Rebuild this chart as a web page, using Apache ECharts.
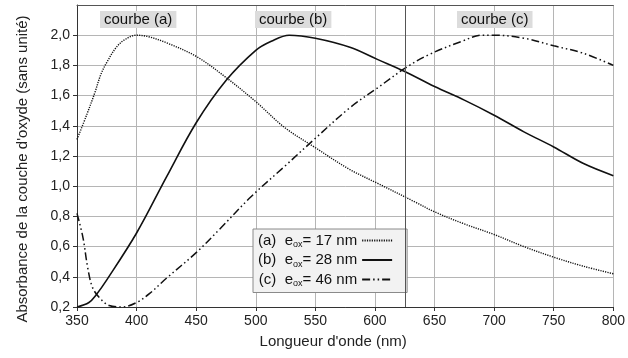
<!DOCTYPE html>
<html><head><meta charset="utf-8">
<script src="https://cdn.jsdelivr.net/npm/echarts@6/dist/echarts.min.js"></script>
<style>html,body{margin:0;padding:0;background:#fff}#c{width:628px;height:358px}</style>
</head><body><div id="c"></div>
<script>
// Curve (a) e_ox = 17 nm
const waveA = [350,358,365,370,375,383,390,400,410,425,450,475,500,524,549,579,602,635,650,675,700,725,750,775,800];
const absA  = [1.31,1.47,1.62,1.74,1.82,1.92,1.97,2.00,1.99,1.95,1.86,1.72,1.56,1.39,1.26,1.11,1.02,0.89,0.83,0.75,0.68,0.60,0.53,0.47,0.42];
// Curve (b) e_ox = 28 nm
const waveB = [350,360,366,375,400,425,450,475,500,513,528,550,579,602,625,650,675,700,725,750,775,800];
const absB  = [0.20,0.23,0.28,0.38,0.69,1.06,1.42,1.70,1.90,1.96,2.00,1.98,1.92,1.84,1.76,1.66,1.57,1.47,1.36,1.26,1.15,1.07];
// Curve (c) e_ox = 46 nm
const waveC = [350,355,359,363,369,377,388,400,411,425,450,469,496,524,549,579,602,625,645,673,690,700,725,750,775,800];
const absC  = [0.82,0.66,0.46,0.33,0.26,0.21,0.20,0.23,0.29,0.39,0.56,0.71,0.93,1.13,1.31,1.52,1.65,1.78,1.87,1.96,2.00,2.00,1.98,1.93,1.88,1.80];

const xTicks = [350,400,450,500,550,600,650,700,750,800];
const yTicks = [0.2,0.4,0.6,0.8,1.0,1.2,1.4,1.6,1.8,2.0];
const legendNames = ['(a)', '(b)', '(c)'];
const legendThickness = ['17', '28', '46'];
const curveLabels = ['courbe (a)', 'courbe (b)', 'courbe (c)'];
const markerWave = 625;

const FONT = 'Liberation Sans, Arial, sans-serif';
const zip = (xs, ys) => xs.map((x, i) => [x, ys[i]]);

const chart = echarts.init(document.getElementById('c'));
const legendText = {};
legendNames.forEach((n, i) => { legendText[n] = legendThickness[i]; });

function lineSeries(name, data, type, width) {
  return {
    name, type: 'line', data, smooth: 0.35, symbol: 'none', showSymbol: false,
    lineStyle: { color: '#111', width, type },
    itemStyle: { color: '#111' },
    animation: false, silent: true, z: 3
  };
}

const series = [
  lineSeries(legendNames[0], zip(waveA, absA), [1.2, 1.2], 1.4),
  lineSeries(legendNames[1], zip(waveB, absB), 'solid', 1.6),
  lineSeries(legendNames[2], zip(waveC, absC), [8, 3, 1.5, 3, 1.5, 3], 1.5)
];
series[1].markLine = {
  silent: true, symbol: ['none', 'none'], label: { show: false },
  lineStyle: { color: '#555', width: 1, type: 'solid' },
  data: [{ xAxis: markerWave }], animation: false
};

const labelStyle = t => ({ text: t, font: '15px ' + FONT, fill: '#111', backgroundColor: '#dcdcdc', padding: [1, 4, 1, 4] });

chart.setOption({
  animation: false,
  backgroundColor: '#fff',
  grid: { left: 77, right: 9, top: 5, bottom: 51 },
  xAxis: [{
    type: 'value', min: 350, max: 800, interval: 25,
    name: "Longueur d'onde (nm)", nameLocation: 'middle', nameGap: 27,
    nameTextStyle: { fontFamily: FONT, fontSize: 15, color: '#222', padding: [0, 24, 0, 0] },
    axisLine: { show: true, lineStyle: { color: '#333', width: 1 } },
    axisTick: { show: true, length: 4, customValues: xTicks, lineStyle: { color: '#333' } },
    axisLabel: { customValues: xTicks, fontFamily: FONT, fontSize: 14, color: '#222', margin: 7,
      formatter: v => String(v) },
    splitLine: { show: true, lineStyle: { color: '#b5b5b5', width: 1 } }
  }, {
    type: 'value', position: 'top', min: 350, max: 800, interval: 25,
    axisLine: { show: true, lineStyle: { color: '#555', width: 1 } },
    axisTick: { show: false }, axisLabel: { show: false }, splitLine: { show: false }
  }],
  yAxis: {
    type: 'value', min: 0.2, max: 2.2, interval: 0.2,
    name: "Absorbance de la couche d'oxyde (sans unité)", nameLocation: 'middle', nameGap: 47,
    nameTextStyle: { fontFamily: FONT, fontSize: 15, color: '#222', padding: [0, 26, 0, 0] },
    axisLine: { show: true, lineStyle: { color: '#333', width: 1 } },
    axisTick: { show: true, length: 4, customValues: yTicks, lineStyle: { color: '#333' } },
    axisLabel: { customValues: yTicks, fontFamily: FONT, fontSize: 14, color: '#222', margin: 7,
      formatter: v => v.toFixed(1).replace('.', ',') },
    splitLine: { show: true, lineStyle: { color: '#b5b5b5', width: 1 } }
  },
  legend: {
    data: legendNames, orient: 'vertical', left: 253, top: 229,
    align: 'right', itemWidth: 30, itemHeight: 10, itemGap: 3,
    padding: [4, 14, 4, 5],
    backgroundColor: '#f2f2f2', borderColor: '#8a8a8a', borderWidth: 1,
    selectedMode: false,
    itemStyle: { opacity: 0 },
    formatter: n => '{t|' + n + '  e}{s|ox}{t|= ' + legendText[n] + ' nm}',
    textStyle: {
      fontFamily: FONT, color: '#111',
      rich: {
        t: { fontFamily: FONT, fontSize: 15, color: '#111', lineHeight: 17 },
        s: { fontFamily: FONT, fontSize: 9, color: '#111', padding: [9, 0, 0, 0] }
      }
    }
  },
  graphic: [
    { type: 'text', left: 100, top: 11, z: 100, style: labelStyle(curveLabels[0]) },
    { type: 'text', left: 255, top: 11, z: 100, style: labelStyle(curveLabels[1]) },
    { type: 'text', left: 457, top: 11, z: 100, style: labelStyle(curveLabels[2]) }
  ],
  series
});
</script></body></html>
